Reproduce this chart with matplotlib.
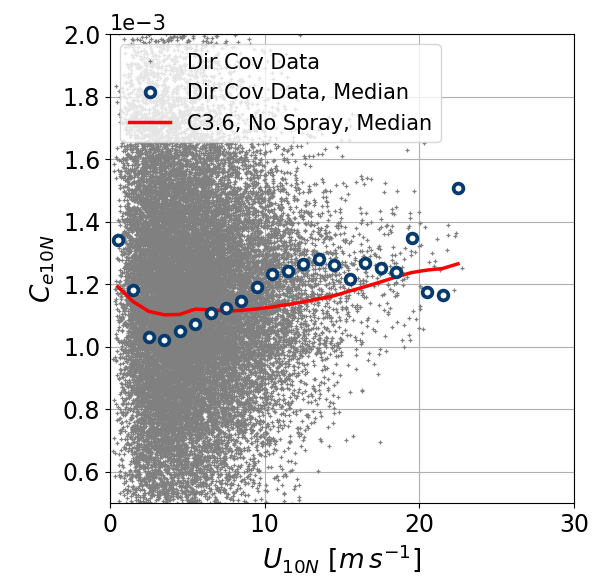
import numpy as np
import matplotlib
matplotlib.use("Agg")
import matplotlib.pyplot as plt

# Bin medians (wind speed bin centres, m/s); C values in units of 1e-3
bin_centres = [0.5, 1.5, 2.5, 3.5, 4.5, 5.5, 6.5, 7.5, 8.5, 9.5, 10.5, 11.5,
               12.5, 13.5, 14.5, 15.5, 16.5, 17.5, 18.5, 19.5, 20.5, 21.5, 22.5]
dircov_median = [1.341, 1.181, 1.031, 1.021, 1.050, 1.073, 1.107, 1.123, 1.146,
                 1.191, 1.232, 1.242, 1.264, 1.280, 1.261, 1.217, 1.268, 1.251,
                 1.238, 1.347, 1.175, 1.165, 1.508]
c36_median = [1.192, 1.144, 1.113, 1.102, 1.103, 1.120, 1.118, 1.114, 1.116,
              1.121, 1.127, 1.135, 1.143, 1.153, 1.163, 1.178, 1.192, 1.207,
              1.223, 1.237, 1.245, 1.250, 1.265]

# Background cloud of individual direct covariance samples (illustrative only)
rng = np.random.default_rng(11)
n_pts = 26000
u_raw = rng.gamma(3.2, 1.75, n_pts)
u_raw = u_raw[(u_raw > 0.2) & (u_raw < 23)]
spread = 0.40 - 0.016 * np.clip(u_raw, 0, 18)
ce_raw = (np.interp(u_raw, bin_centres, c36_median) + 0.02
          + rng.standard_t(6, u_raw.size) * spread)

scale = 1e-3
fig = plt.figure(figsize=(5.93, 5.81), dpi=100)
ax = fig.add_axes([110/593, 1 - 503/581, (574-110)/593, (503-34)/581])

ax.plot(u_raw, ce_raw * scale, linestyle='none', marker='+', markersize=3.0,
        markeredgewidth=0.9, color='#808080', label='Dir Cov Data', zorder=2)
ax.plot(bin_centres, np.array(dircov_median) * scale, linestyle='none', marker='o',
        markersize=7, markeredgewidth=2.7, markeredgecolor='#073b6e',
        markerfacecolor='white', label='Dir Cov Data, Median', zorder=4)
ax.plot(bin_centres, np.array(c36_median) * scale, color='#ff0000', linewidth=2.5,
        label='C3.6, No Spray, Median', zorder=3)

ax.set_xlim(0, 30)
ax.set_ylim(0.5e-3, 2.0e-3)
ax.set_xticks([0, 10, 20, 30])
ax.set_yticks(np.arange(0.6, 2.01, 0.2) * scale)
ax.ticklabel_format(style='sci', axis='y', scilimits=(0, 0))
ax.grid(True, color='#b0b0b0', linewidth=0.8)
ax.set_axisbelow(True)
ax.tick_params(labelsize=17)
ax.yaxis.get_offset_text().set_fontsize(15)
ax.set_xlabel(r'$U_{10N}\ [m\,s^{-1}]$', fontsize=19)
ax.set_ylabel(r'$C_{e10N}$', fontsize=19)
leg = ax.legend(loc='upper left', fontsize=15, markerscale=1.0)
fig.savefig('out.png', dpi=100)
